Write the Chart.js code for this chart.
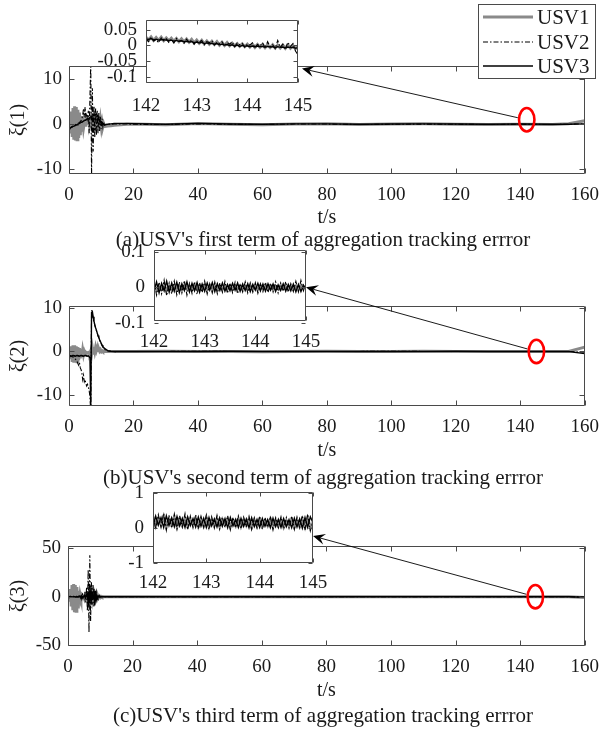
<!DOCTYPE html>
<html><head><meta charset="utf-8">
<script src="https://cdn.jsdelivr.net/npm/chart.js@4.4.1/dist/chart.umd.min.js"></script>
<style>
html,body{margin:0;padding:0;background:#fff;}
#wrap{position:relative;width:609px;height:731px;overflow:hidden;background:#fff;}
#wrap canvas{position:absolute;left:0;top:0;}
</style></head><body><div id="wrap">
<canvas id="m1" width="609" height="731"></canvas>
<canvas id="i1" width="609" height="731"></canvas>
<canvas id="m2" width="609" height="731"></canvas>
<canvas id="i2" width="609" height="731"></canvas>
<canvas id="m3" width="609" height="731"></canvas>
<canvas id="i3" width="609" height="731"></canvas>
</div>
<script>
// ---------------- DATA ----------------
const SERIES_NAMES = ['USV1', 'USV2', 'USV3'];

const tMain = [
  0,0.25,0.5,0.75,1,1.25,1.5,1.75,2,2.25,2.5,2.75,
  3,3.25,3.5,3.75,4,4.25,4.5,4.75,5,5.25,5.5,5.75,
  6,6.25,6.5,6.75,7,7.25,7.5,7.75,8,8.25,8.5,8.75,
  9,9.25,9.5,9.75,10,10.25,10.5,10.75,11,
  12,13,14,16,18,
  20,30,40,50,60,70,80,90,100,110,120,130,140,150,155,160
];

// panel (a): xi(1)
const xi1_usv1 = [
  -0.5,1.5,-2.0,2.8,-2.8,3.6,-3.4,4.0,-3.6,3.8,-3.4,3.2,
  -3.0,2.6,-2.4,1.8,-1.6,1.0,-0.8,0.4,-0.2,0.3,0.2,0.5,
  0.3,0.8,0.4,1.2,-0.6,2.2,-1.0,2.6,-1.2,2.4,-1.0,2.0,
  -0.8,1.6,-0.6,1.0,-0.5,0.5,-0.6,0.1,-0.5,
  -0.4,-0.3,-0.2,-0.1,0.0,
  0.05,-0.1,0.15,0.0,-0.1,0.05,0.1,-0.05,0.05,0.1,0.0,-0.05,0.0,-0.05,0.1,0.8
];
const xi1_usv2 = [
  -1.0,-0.9,-0.8,-0.6,-0.5,-0.4,-0.3,-0.2,-0.1,0.0,0.1,0.2,
  0.3,0.4,0.6,0.8,1.2,2.0,3.5,1.5,3.8,1.0,2.0,1.2,
  3.0,-2.0,6.0,13.5,-11.5,8.0,-6.0,4.0,-3.0,3.5,-2.5,3.0,
  -2.0,2.5,-1.5,1.8,-1.0,1.2,-0.5,0.6,-0.2,
  0.1,0.0,0.05,0.1,0.05,
  0.0,-0.05,0.1,0.0,-0.05,0.05,0.05,-0.05,0.0,0.05,0.0,-0.05,0.0,-0.05,0.0,0.1
];
const xi1_usv3 = [
  -1.0,-0.85,-0.8,-0.65,-0.6,-0.45,-0.4,-0.3,-0.3,-0.15,-0.1,0.05,
  0.1,0.2,0.3,0.45,0.5,0.6,0.7,0.85,0.9,1.0,1.1,1.25,
  1.3,1.4,1.5,1.65,1.7,1.8,1.9,2.05,2.1,2.2,2.3,2.0,
  1.6,1.2,0.9,0.6,0.3,0.1,0.0,-0.1,-0.1,
  0.0,0.1,0.2,0.2,0.2,
  0.15,0.0,0.2,0.05,0.0,0.1,0.1,0.0,0.05,0.1,0.05,0.0,0.05,0.0,0.0,0.1
];

// panel (b): xi(2)
const xi2_usv1 = [
  -0.5,1.0,-1.8,1.2,-2.4,1.4,-2.6,1.4,-2.6,1.2,-2.4,1.0,
  -2.0,0.8,-1.6,0.6,-1.2,0.3,-0.8,0.0,-0.5,-0.2,-0.4,-0.3,
  -0.4,-0.2,-0.3,0.2,-0.6,0.8,-0.4,1.0,0.0,1.0,0.2,0.8,
  0.2,0.6,0.1,0.4,0.0,0.2,0.0,0.1,0.0,
  0.0,0.0,0.0,0.0,0.0,
  0.0,0.05,0.0,0.0,-0.05,0.0,0.05,0.0,0.0,0.05,0.0,0.0,0.0,0.0,0.0,1.0
];
const xi2_usv2 = [
  -1.0,-1.0,-1.1,-1.1,-1.2,-1.3,-1.4,-1.6,-1.8,-2.0,-2.3,-2.8,
  -3.2,-2.6,-3.8,-4.2,-5.0,-6.5,-5.5,-7.0,-6.5,-7.5,-8.0,-7.6,
  -8.2,-9.0,-10.5,-14.0,9.5,8.5,7.5,6.8,6.0,5.4,4.8,4.2,
  3.6,3.1,2.6,2.1,1.7,1.3,1.0,0.7,0.5,
  0.1,0.0,-0.05,0.0,0.0,
  0.0,0.0,0.05,0.0,0.0,0.0,0.0,0.0,0.05,0.0,0.0,0.0,0.0,0.0,0.0,-0.2
];
const xi2_usv3 = [
  -1.2,-1.0,-1.0,-1.1,-1.0,-0.9,-1.0,-1.0,-1.1,-1.0,-0.9,-1.0,
  -1.0,-1.1,-1.0,-0.9,-1.0,-1.0,-1.1,-1.0,-0.9,-1.0,-1.0,-1.1,
  -1.0,-1.2,-1.5,-13.0,9.0,9.2,8.0,7.0,6.2,5.5,4.9,4.3,
  3.7,3.2,2.7,2.3,1.9,1.5,1.2,0.9,0.7,
  0.2,0.05,0.0,0.0,0.0,
  0.0,0.0,0.0,0.05,0.0,0.0,0.0,0.0,0.0,0.0,0.05,0.0,0.0,0.0,0.0,-0.5
];

// panel (c): xi(3)
const xi3_usv1 = [
  0.0,2.0,-5.0,8.0,-10.0,12.0,-14.0,13.0,-16.0,12.0,-15.0,10.0,
  -12.0,6.0,-7.0,2.0,-2.0,1.0,-1.0,0.5,0.0,0.3,-0.3,0.5,
  -0.5,1.0,-1.0,2.0,-2.0,3.0,-3.0,2.5,-2.5,2.0,-2.0,1.5,
  -1.5,1.0,-1.0,0.5,-0.5,0.3,-0.3,0.2,0.0,
  0.0,0.0,0.0,0.0,0.0,
  0.0,0.1,0.0,0.0,-0.1,0.0,0.1,0.0,0.0,0.1,0.0,0.0,0.0,0.0,0.0,-0.8
];
const xi3_usv2 = [
  0.0,0.5,-0.5,0.3,-0.3,0.5,-0.5,0.3,-0.3,0.5,-0.5,0.3,
  -0.3,0.5,1.0,-1.0,2.0,-2.0,3.0,2.0,-3.0,5.0,-6.0,10.0,
  -15.0,28.0,-37.0,43.0,-25.0,15.0,-8.0,12.0,-10.0,6.0,-5.0,4.0,
  -3.0,2.0,-1.0,1.0,-0.5,0.3,-0.2,0.1,0.0,
  0.0,0.0,0.0,0.0,0.0,
  0.0,0.0,0.1,0.0,0.0,0.0,0.0,0.0,0.1,0.0,0.0,0.0,0.0,0.0,0.0,-0.3
];
const xi3_usv3 = [
  -1.0,0.0,0.0,0.2,0.0,-0.2,0.0,0.2,0.0,-0.2,0.0,0.2,
  0.0,-0.2,0.0,0.5,-0.5,1.0,-1.0,0.5,0.0,1.0,-1.0,2.0,
  3.0,-8.0,10.0,-6.0,4.0,-3.0,2.0,-2.0,8.0,-9.0,6.0,-3.0,
  1.0,-1.0,0.5,-0.3,0.2,0.0,0.0,0.0,0.0,
  0.0,0.0,0.0,0.0,0.0,
  0.0,0.0,0.0,0.0,0.0,0.0,0.0,0.0,0.0,0.0,0.0,0.0,0.0,0.0,0.0,-0.5
];

// zoomed insets, t = 142 .. 145 s
const tInset = [
  142.00,142.05,142.10,142.15,142.20,142.25,142.30,142.35,142.40,142.45,
  142.50,142.55,142.60,142.65,142.70,142.75,142.80,142.85,142.90,142.95,
  143.00,143.05,143.10,143.15,143.20,143.25,143.30,143.35,143.40,143.45,
  143.50,143.55,143.60,143.65,143.70,143.75,143.80,143.85,143.90,143.95,
  144.00,144.05,144.10,144.15,144.20,144.25,144.30,144.35,144.40,144.45,
  144.50,144.55,144.60,144.65,144.70,144.75,144.80,144.85,144.90,144.95,
  145.00
];
const zoom1_usv1 = [
  0.026,0.017,0.027,0.016,0.025,0.016,0.026,0.015,0.024,0.015,
  0.023,0.013,0.022,0.012,0.021,0.011,0.020,0.010,0.019,0.008,
  0.017,0.007,0.016,0.005,0.014,0.004,0.013,0.003,0.012,0.001,
  0.010,0.000,0.009,-0.001,0.007,-0.002,0.006,-0.003,0.005,-0.004,
  0.004,-0.005,0.004,-0.006,0.003,-0.006,0.003,-0.007,0.002,-0.007,
  0.002,-0.008,0.001,-0.008,0.001,-0.009,0.001,-0.009,0.000,-0.010,
  -0.004
];
const zoom1_usv2 = [
  0.020,0.012,0.026,0.014,0.018,0.009,0.024,0.015,0.021,0.010,
  0.019,0.008,0.022,0.013,0.016,0.007,0.020,0.010,0.017,0.004,
  0.014,0.011,0.016,0.002,0.012,0.009,0.015,0.001,0.010,0.006,
  0.012,-0.002,0.009,0.004,0.011,-0.004,0.007,0.002,0.006,-0.006,
  0.004,0.001,0.008,-0.007,0.003,-0.002,0.009,-0.008,0.012,-0.004,
  0.002,-0.010,0.016,-0.006,0.004,-0.012,0.010,-0.003,0.006,-0.018,
  -0.030
];
const zoom1_usv3 = [
  0.021,0.019,0.022,0.018,0.020,0.017,0.019,0.018,0.017,0.016,
  0.017,0.014,0.016,0.013,0.015,0.012,0.013,0.011,0.012,0.009,
  0.011,0.008,0.010,0.006,0.008,0.005,0.007,0.004,0.006,0.002,
  0.004,0.001,0.003,0.000,0.002,-0.002,0.001,-0.003,0.000,-0.003,
  -0.001,-0.004,-0.002,-0.005,-0.002,-0.004,-0.003,-0.006,-0.003,-0.005,
  -0.004,-0.007,-0.004,-0.006,-0.005,-0.008,-0.005,-0.007,-0.006,-0.009,
  -0.007
];
const zoom2_usv1 = [
  0.006,-0.008,0.004,-0.006,0.007,-0.009,0.003,-0.007,0.005,-0.006,
  0.004,-0.008,0.006,-0.005,0.003,-0.007,0.005,-0.006,0.004,-0.005,
  0.006,-0.007,0.003,-0.006,0.005,-0.004,0.004,-0.006,0.003,-0.005,
  0.005,-0.006,0.002,-0.005,0.004,-0.006,0.003,-0.004,0.005,-0.005,
  0.003,-0.006,0.004,-0.004,0.002,-0.005,0.004,-0.006,0.003,-0.004,
  0.005,-0.005,0.002,-0.004,0.004,-0.005,0.003,-0.004,0.006,-0.003,
  0.002
];
const zoom2_usv2 = [
  0.018,-0.022,0.014,-0.018,0.020,-0.024,0.012,-0.019,0.017,-0.021,
  0.015,-0.016,0.019,-0.022,0.011,-0.017,0.016,-0.020,0.013,-0.015,
  0.017,-0.019,0.010,-0.016,0.015,-0.018,0.012,-0.014,0.016,-0.017,
  0.011,-0.015,0.014,-0.018,0.010,-0.013,0.015,-0.016,0.012,-0.014,
  0.013,-0.017,0.010,-0.012,0.014,-0.015,0.011,-0.013,0.015,-0.016,
  0.012,-0.011,0.016,-0.014,0.010,-0.012,0.017,-0.013,0.019,-0.010,
  0.012
];
const zoom2_usv3 = [
  -0.012,0.015,-0.016,0.011,-0.010,0.017,-0.014,0.012,-0.011,0.014,
  -0.015,0.010,-0.009,0.015,-0.013,0.011,-0.010,0.013,-0.014,0.009,
  -0.011,0.012,-0.008,0.013,-0.012,0.010,-0.009,0.012,-0.011,0.008,
  -0.010,0.011,-0.008,0.012,-0.011,0.009,-0.009,0.010,-0.012,0.008,
  -0.008,0.011,-0.010,0.009,-0.011,0.010,-0.008,0.009,-0.012,0.007,
  -0.009,0.010,-0.011,0.008,-0.010,0.009,-0.013,0.008,-0.012,0.006,
  -0.007
];
const zoom3_usv1 = [
  0.30,0.06,0.27,0.10,0.32,0.05,0.26,0.09,0.29,0.04,
  0.25,0.08,0.28,0.06,0.24,0.10,0.27,0.05,0.25,0.07,
  0.28,0.04,0.23,0.08,0.26,0.05,0.24,0.09,0.25,0.04,
  0.22,0.07,0.26,0.05,0.23,0.08,0.25,0.03,0.22,0.06,
  0.24,0.05,0.21,0.07,0.25,0.04,0.22,0.06,0.23,0.03,
  0.21,0.07,0.24,0.04,0.22,0.05,0.25,0.03,0.27,0.02,
  0.15
];
const zoom3_usv2 = [
  0.44,-0.04,0.38,0.02,0.42,-0.06,0.36,0.00,0.40,-0.03,
  0.35,0.03,0.41,-0.05,0.34,0.01,0.38,-0.02,0.33,0.02,
  0.37,-0.04,0.32,0.00,0.36,-0.03,0.31,0.02,0.35,-0.05,
  0.30,0.01,0.34,-0.02,0.31,0.03,0.33,-0.04,0.29,0.00,
  0.34,-0.03,0.30,0.02,0.33,-0.05,0.29,0.01,0.32,-0.02,
  0.30,0.00,0.34,-0.04,0.31,0.02,0.36,-0.06,0.40,-0.08,
  0.20
];
const zoom3_usv3 = [
  0.03,0.34,0.08,0.30,0.02,0.35,0.07,0.29,0.04,0.33,
  0.06,0.28,0.02,0.32,0.07,0.27,0.03,0.31,0.05,0.28,
  0.02,0.30,0.06,0.26,0.03,0.29,0.05,0.27,0.01,0.30,
  0.06,0.25,0.02,0.28,0.05,0.26,0.01,0.29,0.04,0.25,
  0.02,0.27,0.05,0.24,0.01,0.28,0.04,0.25,0.02,0.27,
  0.04,0.24,0.01,0.28,0.03,0.26,0.00,0.30,0.02,0.32,
  0.15
];

// tick values
const xTicksMain = [0,20,40,60,80,100,120,140,160];
const xTicksInset = [142,143,144,145];
const yTicks1 = [-10,0,10];
const yTicks2 = [-10,0,10];
const yTicks3 = [-50,0,50];
const yTicksZoom1 = [-0.1,-0.05,0,0.05];
const yTicksZoom2 = [-0.1,0,0.1];
const yTicksZoom3 = [-1,0,1];

// texts
const yTitles = ['\u03BE(1)', '\u03BE(2)', '\u03BE(3)'];
const xTitle = 't/s';
const captions = [
  "(a)USV's first term of aggregation tracking errror",
  "(b)USV's second term of aggregation tracking errror",
  "(c)USV's third term of aggregation tracking errror"
];

// ---------------- STYLE / LAYOUT ----------------
const W = 609, H = 731;
const FAM = "'Liberation Serif','Times New Roman',serif";
const TXT = '#1a1a1a';
const FRAME = '#4a4a4a';
const STYLE = [
  {color:'#8a8a8a', width:3, dash:[], order:3},
  {color:'#000000', width:1.1, dash:[5,2,1.5,2], order:2},
  {color:'#000000', width:1.4, dash:[], order:1}
];
const MAIN_BOX = [
  {L:69, R:591, T:66,  B:174, xPad:10, yPad:7},
  {L:69, R:591, T:306, B:406, xPad:10, yPad:7},
  {L:68, R:589, T:546, B:646, xPad:10, yPad:7}
];
const INSET_BOX = [
  {L:146, R:298, T:9,   B:83,  xPad:12, yPad:9},
  {L:154, R:306, T:250, B:321, xPad:10, yPad:9},
  {L:153, R:313, T:492, B:563, xPad:9,  yPad:9}
];
const TEXT_POS = [
  {xTitleY:218, captionY:240},
  {xTitleY:451, captionY:478},
  {xTitleY:691, captionY:716}
];
const MARKS = [
  {t:142, v:1.0, rx:9, ry:13, tipV:-0.074, tipDx:4},
  {t:145, v:0,   rx:9, ry:13, tipV:0,      tipDx:0},
  {t:144.7, v:0, rx:9, ry:13, tipV:-0.23,  tipDx:0}
];

function makeDatasets(t, series) {
  return series.map((vals, k) => ({
    label: SERIES_NAMES[k],
    data: t.map((x, i) => ({x: x, y: vals[i]})),
    borderColor: STYLE[k].color,
    backgroundColor: STYLE[k].color,
    borderWidth: STYLE[k].width,
    borderDash: STYLE[k].dash,
    pointRadius: 0,
    tension: 0,
    fill: false,
    clip: 0,
    order: STYLE[k].order
  }));
}

function scaleOpts(box, xr, yr, xt, yt) {
  const font = {family: FAM, size: 19};
  const fmt = v => String(v);
  return {
    x: {type:'linear', position:'bottom', min:xr[0], max:xr[1],
      afterBuildTicks: s => { s.ticks = xt.map(v => ({value: v})); },
      afterFit: s => { s.height = H - box.B; },
      grid: {display:false, drawTicks:false}, border: {display:false},
      ticks: {padding: box.xPad, font: font, color: TXT, maxRotation:0, minRotation:0, autoSkip:false, callback: fmt}},
    y: {type:'linear', position:'left', min:yr[0], max:yr[1],
      afterBuildTicks: s => { s.ticks = yt.map(v => ({value: v})); },
      afterFit: s => { s.width = box.L; },
      grid: {display:false, drawTicks:false}, border: {display:false},
      ticks: {padding: box.yPad, font: font, color: TXT, autoSkip:false, callback: fmt}}
  };
}

const panelPlugin = {
  id: 'panel',
  beforeDraw(chart, args, o) {
    if (o.whiteFill) {
      const a = chart.chartArea, ctx = chart.ctx;
      ctx.save(); ctx.fillStyle = '#fff';
      ctx.fillRect(a.left, a.top, a.right - a.left, a.bottom - a.top);
      ctx.restore();
    }
  },
  afterDraw(chart, args, o) {
    const ctx = chart.ctx, a = chart.chartArea, xs = chart.scales.x, ys = chart.scales.y;
    ctx.save();
    ctx.strokeStyle = FRAME; ctx.lineWidth = 1; ctx.setLineDash([]);
    const L = Math.round(a.left) + 0.5, R = Math.round(a.right) - 0.5;
    const T = Math.round(a.top) + 0.5, B = Math.round(a.bottom) - 0.5;
    ctx.beginPath();
    xs.ticks.forEach(tk => {
      const px = Math.round(xs.getPixelForValue(tk.value)) + 0.5;
      ctx.moveTo(px, B); ctx.lineTo(px, B - o.tickLen);
      ctx.moveTo(px, T); ctx.lineTo(px, T + o.tickLen);
    });
    ys.ticks.forEach(tk => {
      const py = Math.round(ys.getPixelForValue(tk.value)) + 0.5;
      ctx.moveTo(L, py); ctx.lineTo(L + o.tickLen, py);
      ctx.moveTo(R, py); ctx.lineTo(R - o.tickLen, py);
    });
    ctx.rect(L, T, R - L, B - T);
    ctx.stroke();

    if (o.xTitle) {
      ctx.fillStyle = TXT; ctx.textAlign = 'center'; ctx.textBaseline = 'middle';
      ctx.font = '20px ' + FAM;
      ctx.fillText(o.xTitle, (a.left + a.right) / 2, o.xTitleY);
      ctx.font = '21px ' + FAM;
      ctx.fillText(o.caption, o.captionX, o.captionY);
      ctx.save();
      ctx.translate(o.yTitleX, (a.top + a.bottom) / 2);
      ctx.rotate(-Math.PI / 2);
      ctx.font = '20px ' + FAM;
      ctx.fillText(o.yTitle, 0, 0);
      ctx.restore();
    }

    if (o.mark) {
      const m = o.mark, ins = o.inset;
      const cx = xs.getPixelForValue(m.t), cy = ys.getPixelForValue(m.v);
      const tx = ins.chartArea.right + m.tipDx, ty = ins.scales.y.getPixelForValue(m.tipV);
      const dx = tx - cx, dy = ty - cy;
      const f = 1 / Math.sqrt((dx / m.rx) ** 2 + (dy / m.ry) ** 2);
      const sx = cx + dx * f, sy = cy + dy * f;
      ctx.strokeStyle = '#000'; ctx.lineWidth = 0.9;
      const len = Math.hypot(tx - sx, ty - sy), ux = (tx - sx) / len, uy = (ty - sy) / len;
      const hl = 12, hw = 5.5, notch = 7.5;
      ctx.beginPath(); ctx.moveTo(sx, sy); ctx.lineTo(tx - ux * notch, ty - uy * notch); ctx.stroke();
      ctx.fillStyle = '#000';
      ctx.beginPath();
      ctx.moveTo(tx, ty);
      ctx.lineTo(tx - ux * hl - uy * hw, ty - uy * hl + ux * hw);
      ctx.lineTo(tx - ux * notch, ty - uy * notch);
      ctx.lineTo(tx - ux * hl + uy * hw, ty - uy * hl - ux * hw);
      ctx.closePath(); ctx.fill();
      ctx.strokeStyle = '#ff0000'; ctx.lineWidth = 2.6;
      ctx.beginPath(); ctx.ellipse(cx, cy, m.rx - 1.3, m.ry - 1.3, 0, 0, Math.PI * 2); ctx.stroke();
    }

    if (o.legend) {
      const lg = o.legend;
      ctx.fillStyle = '#fff';
      ctx.fillRect(lg.x0, lg.y0, lg.x1 - lg.x0, lg.y1 - lg.y0);
      ctx.strokeStyle = FRAME; ctx.lineWidth = 1; ctx.setLineDash([]);
      ctx.strokeRect(lg.x0 + 0.5, lg.y0 + 0.5, lg.x1 - lg.x0 - 1, lg.y1 - lg.y0 - 1);
      chart.data.datasets.forEach((ds, k) => {
        const y = lg.rows[k];
        ctx.strokeStyle = ds.borderColor; ctx.lineWidth = ds.borderWidth;
        ctx.setLineDash(ds.borderDash || []);
        ctx.beginPath(); ctx.moveTo(lg.lx0, y); ctx.lineTo(lg.lx1, y); ctx.stroke();
        ctx.setLineDash([]);
        ctx.fillStyle = TXT; ctx.font = '21px ' + FAM; ctx.textAlign = 'left'; ctx.textBaseline = 'middle';
        ctx.fillText(ds.label, lg.tx, y + 1);
      });
    }
    ctx.restore();
  }
};

function makeChart(id, box, t, series, xr, yr, xt, yt, panelOpts) {
  return new Chart(document.getElementById(id), {
    type: 'line',
    data: {datasets: makeDatasets(t, series)},
    options: {
      responsive: false, animation: false, devicePixelRatio: 1, events: [],
      layout: {padding: {left: 0, top: box.T, right: W - box.R, bottom: 0}},
      plugins: {legend: {display: false}, tooltip: {enabled: false}, title: {display: false}, panel: panelOpts},
      scales: scaleOpts(box, xr, yr, xt, yt)
    },
    plugins: [panelPlugin]
  });
}

const MAIN_SERIES = [
  [xi1_usv1, xi1_usv2, xi1_usv3],
  [xi2_usv1, xi2_usv2, xi2_usv3],
  [xi3_usv1, xi3_usv2, xi3_usv3]
];
const ZOOM_SERIES = [
  [zoom1_usv1, zoom1_usv2, zoom1_usv3],
  [zoom2_usv1, zoom2_usv2, zoom2_usv3],
  [zoom3_usv1, zoom3_usv2, zoom3_usv3]
];
const MAIN_YR = [[-11, 12.9], [-12.6, 10.5], [-51, 52.5]];
const ZOOM_YR = [[-0.12, 0.08], [-0.095, 0.105], [-1, 1.03]];
const MAIN_YT = [yTicks1, yTicks2, yTicks3];
const ZOOM_YT = [yTicksZoom1, yTicksZoom2, yTicksZoom3];

for (let p = 0; p < 3; p++) {
  const inset = makeChart('i' + (p + 1), INSET_BOX[p], tInset, ZOOM_SERIES[p], [142, 145], ZOOM_YR[p],
    xTicksInset, ZOOM_YT[p], {whiteFill: true, tickLen: 4});
  makeChart('m' + (p + 1), MAIN_BOX[p], tMain, MAIN_SERIES[p], [0, 160], MAIN_YR[p],
    xTicksMain, MAIN_YT[p], {
      tickLen: 5, xTitle: xTitle, xTitleY: TEXT_POS[p].xTitleY,
      caption: captions[p], captionX: 323, captionY: TEXT_POS[p].captionY,
      yTitle: yTitles[p], yTitleX: 19,
      mark: MARKS[p], inset: inset,
      legend: p === 0 ? {x0:478, y0:4, x1:596, y1:79, rows:[17, 42, 66], lx0:483, lx1:533, tx:537} : null
    });
}
</script>
</body></html>
